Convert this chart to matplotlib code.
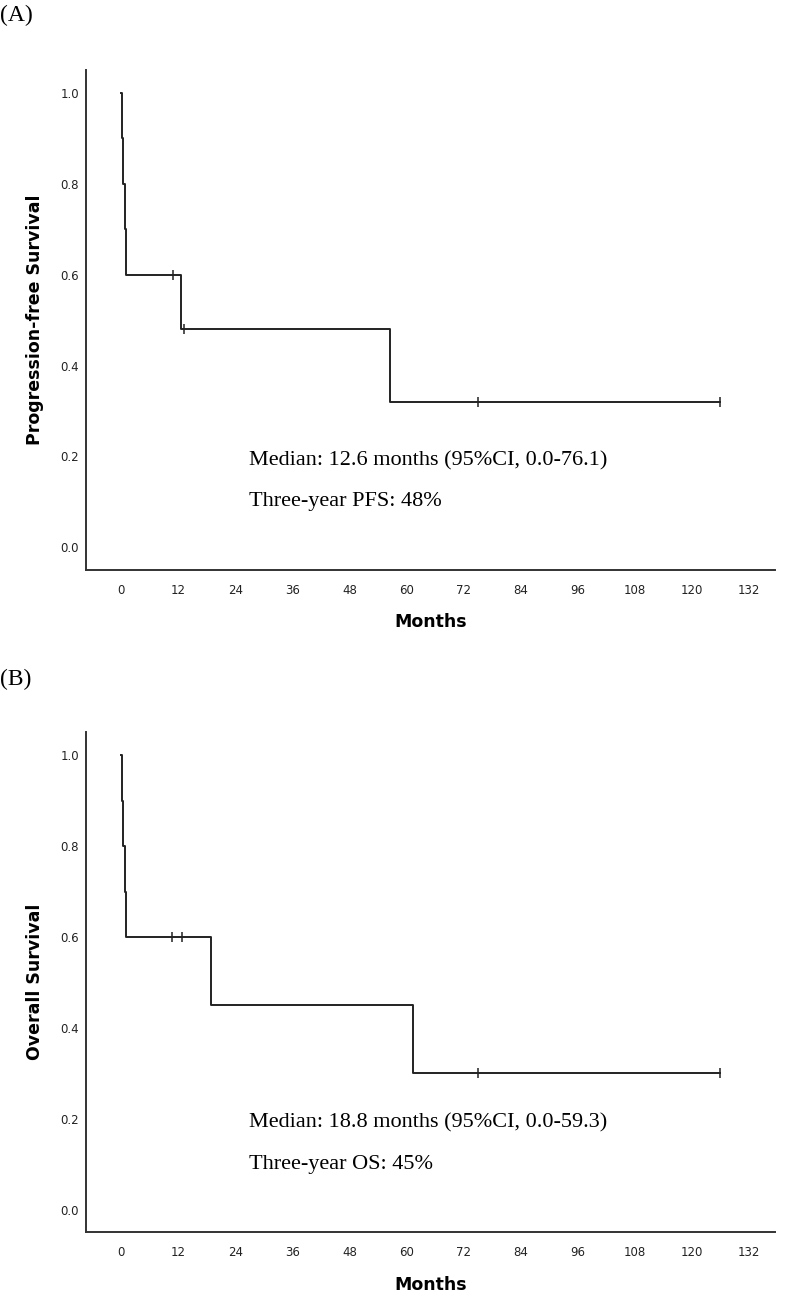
import matplotlib
matplotlib.use("Agg")
import matplotlib.pyplot as plt

# Kaplan-Meier step data
pfs_t = [0.0, 0.1, 0.3, 0.7, 1.0, 12.6, 56.5, 126.0]
pfs_s = [1.0, 0.9, 0.8, 0.7, 0.6, 0.48, 0.32, 0.32]
pfs_cens_t = [10.8, 13.2, 75.0, 126.0]
pfs_cens_s = [0.6, 0.48, 0.32, 0.32]

os_t = [0.0, 0.1, 0.3, 0.7, 1.0, 18.8, 61.3, 126.0]
os_s = [1.0, 0.9, 0.8, 0.7, 0.6, 0.45, 0.30, 0.30]
os_cens_t = [10.6, 12.9, 75.0, 126.0]
os_cens_s = [0.6, 0.6, 0.30, 0.30]

x_ticks = list(range(0, 133, 12))
y_ticks = [0.0, 0.2, 0.4, 0.6, 0.8, 1.0]

panels = [
    ("(A)", pfs_t, pfs_s, pfs_cens_t, pfs_cens_s, "Progression-free Survival",
     "Median: 12.6 months (95%CI, 0.0-76.1)", "Three-year PFS: 48%"),
    ("(B)", os_t, os_s, os_cens_t, os_cens_s, "Overall Survival",
     "Median: 18.8 months (95%CI, 0.0-59.3)", "Three-year OS: 45%"),
]

fig = plt.figure(figsize=(7.89, 13.09), dpi=100)
serif = "Liberation Serif"

# axes boxes in figure fractions
boxes = [[0.109, 0.5646, 0.873, 0.382], [0.109, 0.0586, 0.873, 0.382]]
label_y = [0.988, 0.481]

for i, (tag, t, s, ct, cs, ylab, txt1, txt2) in enumerate(panels):
    ax = fig.add_axes(boxes[i])
    ax.step(t, s, where="post", color="#222222", lw=1.4)
    ax.plot(ct, cs, linestyle="none", marker="|", markersize=7,
            markeredgewidth=1.1, color="#222222")

    ax.set_xlim(-7.4, 137.5)
    ax.set_ylim(-0.05, 1.051)
    ax.set_xticks(x_ticks)
    ax.set_yticks(y_ticks)
    ax.set_yticklabels([f"{v:.1f}" for v in y_ticks])
    ax.tick_params(axis="x", length=0, pad=10, labelsize=8.5, colors="#222222")
    ax.tick_params(axis="y", length=0, pad=5, labelsize=8.5, colors="#222222")
    for side in ["top", "right"]:
        ax.spines[side].set_visible(False)
    for side in ["left", "bottom"]:
        ax.spines[side].set_linewidth(1.4)
        ax.spines[side].set_color("#333333")

    ax.set_xlabel("Months", fontsize=12.5, fontweight="bold", labelpad=12)
    ax.set_ylabel(ylab, fontsize=12.5, fontweight="bold", labelpad=12)

    ax.text(26.9, 0.19, txt1, family=serif, fontsize=16, va="center", ha="left")
    ax.text(26.9, 0.10, txt2, family=serif, fontsize=16, va="center", ha="left")

    fig.text(0.0, label_y[i], tag, family=serif, fontsize=17, va="center", ha="left")

plt.savefig("out.png", dpi=100)
